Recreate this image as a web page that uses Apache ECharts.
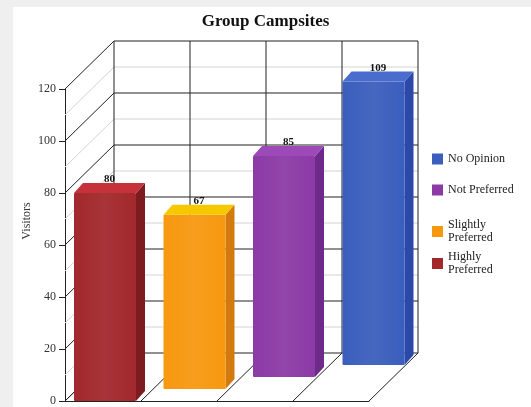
<!DOCTYPE html>
<html>
<head>
<meta charset="utf-8">
<script src="https://cdn.jsdelivr.net/npm/echarts@6/dist/echarts.min.js"></script>
<style>
  html, body { margin: 0; padding: 0; background: #efefef; }
  #chart { width: 531px; height: 407px; }
</style>
</head>
<body>
<div id="chart"></div>
<script>
// data
const categories = ["Highly Preferred", "Slightly Preferred", "Not Preferred", "No Opinion"];
const visitors = [80, 67, 85, 109];
const legendOrder = ["No Opinion", "Not Preferred", "Slightly Preferred", "Highly Preferred"];
const legendLabels = ["No Opinion", "Not Preferred", "Slightly\nPreferred", "Highly\nPreferred"];
const gridValues = [0, 10, 20, 30, 40, 50, 60, 70, 80, 90, 100, 110, 120];

// colours for the faces of each bar (same order as categories)
const frontColors = ["#a2282c", "#f7980f", "#8c3aa6", "#3b5ebd"];
const topColors = ["#c6323a", "#f6c800", "#9d4ab8", "#4a6dcd"];
const sideColors = ["#7c1c20", "#d27a0c", "#6d2a8a", "#2c48a8"];

// fake 3d geometry (pixels)
const DX = 49, DY = -48;          // wall depth
const ROW_X = 13.5, ROW_Y = -12;  // each bar sits one row further back
const BAR_INSET = 9, BAR_W = 62;
const BAR_DX = 9, BAR_DY = -10;   // bar thickness
const SERIF = "Liberation Serif";

var chartDom = document.getElementById("chart");
var myChart = echarts.init(chartDom);

function line(x1, y1, x2, y2, color) {
  return {
    type: "line",
    shape: { x1: x1, y1: y1, x2: x2, y2: y2 },
    style: { stroke: color, lineWidth: 1 },
  };
}

// back wall + left wall grid lines
function renderWalls(params, api) {
  const v = api.value(1);
  const p = api.coord([0, v]);
  const bw = api.size([1, 0])[0];
  const xl = p[0] - bw / 2;
  const xr = xl + bw * categories.length;
  const color = v % 20 === 0 ? "#222" : "#d4d4d4";
  return {
    type: "group",
    children: [
      line(xl, p[1], xl + DX, p[1] + DY, color),
      line(xl + DX, p[1] + DY, xr + DX, p[1] + DY, color),
    ],
  };
}

// vertical lines on the back wall and the floor lines
function renderFloor(params, api) {
  const i = api.value(0);
  const p0 = api.coord([i, 0]);
  const pTop = api.coord([i, 120]);
  const bw = api.size([1, 0])[0];
  const xs = [p0[0] - bw / 2];
  if (i === categories.length - 1) xs.push(p0[0] + bw / 2);
  const children = [];
  xs.forEach((bx) => {
    children.push(line(bx, p0[1], bx + DX, p0[1] + DY, "#222"));
    children.push(line(bx + DX, p0[1] + DY, bx + DX, pTop[1] + DY, "#222"));
  });
  return { type: "group", children: children };
}

function renderBar(params, api) {
  const i = api.value(0);
  const v = api.value(1);
  const base = api.coord([i, 0]);
  const top = api.coord([i, v]);
  const bw = api.size([1, 0])[0];
  const x0 = base[0] - bw / 2 + BAR_INSET + i * ROW_X;
  const x1 = x0 + BAR_W;
  const yb = base[1] + i * ROW_Y;
  const yt = top[1] + i * ROW_Y;
  return {
    type: "group",
    children: [
      {
        type: "polygon",
        shape: { points: [[x1, yt], [x1 + BAR_DX, yt + BAR_DY], [x1 + BAR_DX, yb + BAR_DY], [x1, yb]] },
        style: { fill: sideColors[i] },
      },
      {
        type: "rect",
        shape: { x: x0, y: yt, width: BAR_W, height: yb - yt, r: 1 },
        style: {
          fill: new echarts.graphic.LinearGradient(0, 0, 1, 0, [
            { offset: 0, color: frontColors[i] },
            { offset: 0.5, color: echarts.color.lift(frontColors[i], 0.06) },
            { offset: 1, color: frontColors[i] },
          ]),
        },
      },
      {
        type: "polygon",
        shape: { points: [[x0, yt], [x1, yt], [x1 + BAR_DX, yt + BAR_DY], [x0 + BAR_DX, yt + BAR_DY]] },
        style: { fill: topColors[i] },
      },
      {
        type: "text",
        x: x0 + BAR_W / 2 + BAR_DX / 2,
        y: yt + BAR_DY + 2,
        style: {
          text: String(v),
          align: "center",
          verticalAlign: "bottom",
          font: "bold 11px " + SERIF,
          fill: "#111",
        },
      },
    ],
  };
}

const legendTops = [152.5, 183.5, 218.5, 250.5];

var option = {
  animation: false,
  title: {
    text: "Group Campsites",
    left: "center",
    top: 8,
    textStyle: { fontFamily: SERIF, fontSize: 17, fontWeight: "bold", color: "#111" },
  },
  graphic: [
    {
      type: "rect",
      z: -10,
      shape: { x: 13, y: 7, width: 531, height: 407 },
      style: { fill: "#fff" },
    },
    {
      type: "text",
      x: 27,
      y: 221,
      rotation: Math.PI / 2,
      style: {
        text: "Visitors",
        align: "center",
        verticalAlign: "middle",
        font: "12px " + SERIF,
        fill: "#333",
      },
    },
  ],
  legend: legendOrder.map((name, k) => ({
    data: [name],
    orient: "vertical",
    left: 432,
    top: legendTops[k],
    padding: 0,
    icon: "rect",
    itemWidth: 11,
    itemHeight: 11,
    itemGap: 5,
    formatter: () => legendLabels[k],
    textStyle: { fontFamily: SERIF, fontSize: 12, lineHeight: 13, color: "#222" },
  })),
  grid: { left: 65, right: 162, top: 89, bottom: 5 },
  xAxis: {
    type: "category",
    data: categories,
    axisLine: { lineStyle: { color: "#222" } },
    axisTick: { show: false },
    axisLabel: { show: false },
  },
  yAxis: {
    type: "value",
    min: 0,
    max: 120,
    interval: 20,
    axisLine: { show: true, lineStyle: { color: "#222" } },
    axisTick: { show: true, length: 6, lineStyle: { color: "#222" } },
    axisLabel: { fontFamily: SERIF, fontSize: 12, color: "#333", margin: 9 },
    splitLine: { show: false },
  },
  series: [
    {
      type: "custom",
      name: "walls",
      silent: true,
      z: 1,
      renderItem: renderWalls,
      encode: { x: 0, y: 1 },
      data: gridValues.map((v) => [0, v]),
    },
    {
      type: "custom",
      name: "floor",
      silent: true,
      z: 1,
      renderItem: renderFloor,
      encode: { x: 0, y: 1 },
      data: categories.map((c, i) => [i, 0]),
    },
  ].concat(
    categories.map((name, i) => ({
      type: "custom",
      name: name,
      z: 3,
      itemStyle: { color: frontColors[i] },
      renderItem: renderBar,
      encode: { x: 0, y: 1 },
      data: [[i, visitors[i]]],
    }))
  ),
};

myChart.setOption(option);
</script>
</body>
</html>
